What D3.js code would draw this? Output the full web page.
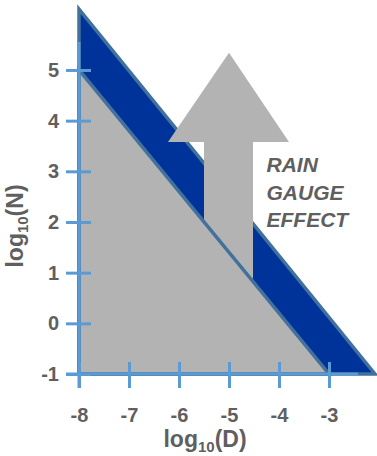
<!DOCTYPE html>
<html lang="en">
<head>
    <meta charset="UTF-8">
    <title>Rain gauge effect</title>
    <script src="https://d3js.org/d3.v7.min.js"></script>
    <style>
        body { margin: 0; background: #fff; }
        text { font-family: "Liberation Sans", Arial, sans-serif; font-weight: bold; fill: #5f5f5f; }
    </style>
</head>
<body>
    <div id="chart"></div>
    <script>
        // tick values
        const xTicks = [-8, -7, -6, -5, -4, -3];
        const yTicks = [-1, 0, 1, 2, 3, 4, 5];

        // shapes in log10(D), log10(N) units
        const bandOuter = [[-8, 6.2], [-8, -1], [-2.08, -1]];
        const grayTriangle = [[-8, 5], [-8, -1], [-3, -1]];
        const arrowShape = [[-5.5, 0], [-5.5, 3.58], [-6.22, 3.58], [-5.0, 5.34],
                            [-3.8, 3.58], [-4.52, 3.58], [-4.52, 0]];
        const effectLines = ["RAIN", "GAUGE", "EFFECT"];

        const width = 377, height = 456;

        const x = d3.scaleLinear().domain([-8, -2.42]).range([79, 358]);
        const y = d3.scaleLinear().domain([-1, 5.55]).range([374, 42.1]);

        const svg = d3.select("#chart").append("svg")
            .attr("width", width)
            .attr("height", height);

        const line = d3.line().x(d => x(d[0])).y(d => y(d[1]));

        // blue band (outer triangle)
        svg.append("path")
            .attr("d", line(bandOuter) + "Z")
            .attr("fill", "#003399")
            .attr("stroke", "#41719c")
            .attr("stroke-width", 3.5);

        // big up arrow
        svg.append("path")
            .attr("d", line(arrowShape) + "Z")
            .attr("fill", "#b3b3b3");

        // gray triangle on top
        svg.append("path")
            .attr("d", line(grayTriangle) + "Z")
            .attr("fill", "#b3b3b3")
            .attr("stroke", "#41719c")
            .attr("stroke-width", 3.5);

        // axes
        const axisColor = "#5b9bd5";
        const fmt = d => String(d); // plain hyphen minus
        const xAxis = svg.append("g")
            .attr("transform", "translate(0," + y(-1) + ")")
            .call(d3.axisBottom(x).tickValues(xTicks).tickFormat(fmt)
                .tickSizeOuter(0).tickSizeInner(14).tickPadding(20));
        const yAxis = svg.append("g")
            .attr("transform", "translate(" + x(-8) + ",0)")
            .call(d3.axisLeft(y).tickValues(yTicks).tickFormat(fmt)
                .tickSizeOuter(0).tickSizeInner(13).tickPadding(7));

        [xAxis, yAxis].forEach(g => {
            g.select(".domain").attr("stroke", axisColor).attr("stroke-width", 3);
            g.selectAll(".tick line").attr("stroke", axisColor).attr("stroke-width", 3);
            g.selectAll(".tick text").attr("font-size", 20).attr("fill", "#5f5f5f");
        });
        xAxis.selectAll(".tick line").attr("y1", -12);
        yAxis.selectAll(".tick line").attr("x1", 12);
        // x axis starts at the left tick end, y axis runs down to the bottom tick end
        xAxis.select(".domain").attr("d", "M" + (x(-8) - 13) + ",0H" + x(-2.42));
        yAxis.select(".domain").attr("d", "M0," + y(5.55) + "V" + (y(-1) + 14));

        // axis titles
        const xTitle = svg.append("text")
            .attr("x", 205)
            .attr("y", 447)
            .attr("text-anchor", "middle")
            .attr("font-size", 23);
        xTitle.append("tspan").text("log");
        xTitle.append("tspan").attr("font-size", 15).attr("dy", 5).text("10");
        xTitle.append("tspan").attr("dy", -5).text("(D)");

        const yTitle = svg.append("text")
            .attr("transform", "translate(23,226) rotate(-90)")
            .attr("text-anchor", "middle")
            .attr("font-size", 23);
        yTitle.append("tspan").text("log");
        yTitle.append("tspan").attr("font-size", 15).attr("dy", 5).text("10");
        yTitle.append("tspan").attr("dy", -5).text("(N)");

        // annotation
        svg.append("g")
            .selectAll("text")
            .data(effectLines)
            .join("text")
            .attr("x", x(-4.25))
            .attr("y", (d, i) => 172 + i * 27.5)
            .attr("font-size", 21)
            .attr("font-style", "italic")
            .attr("fill", "#666")
            .text(d => d);
    </script>
</body>
</html>
